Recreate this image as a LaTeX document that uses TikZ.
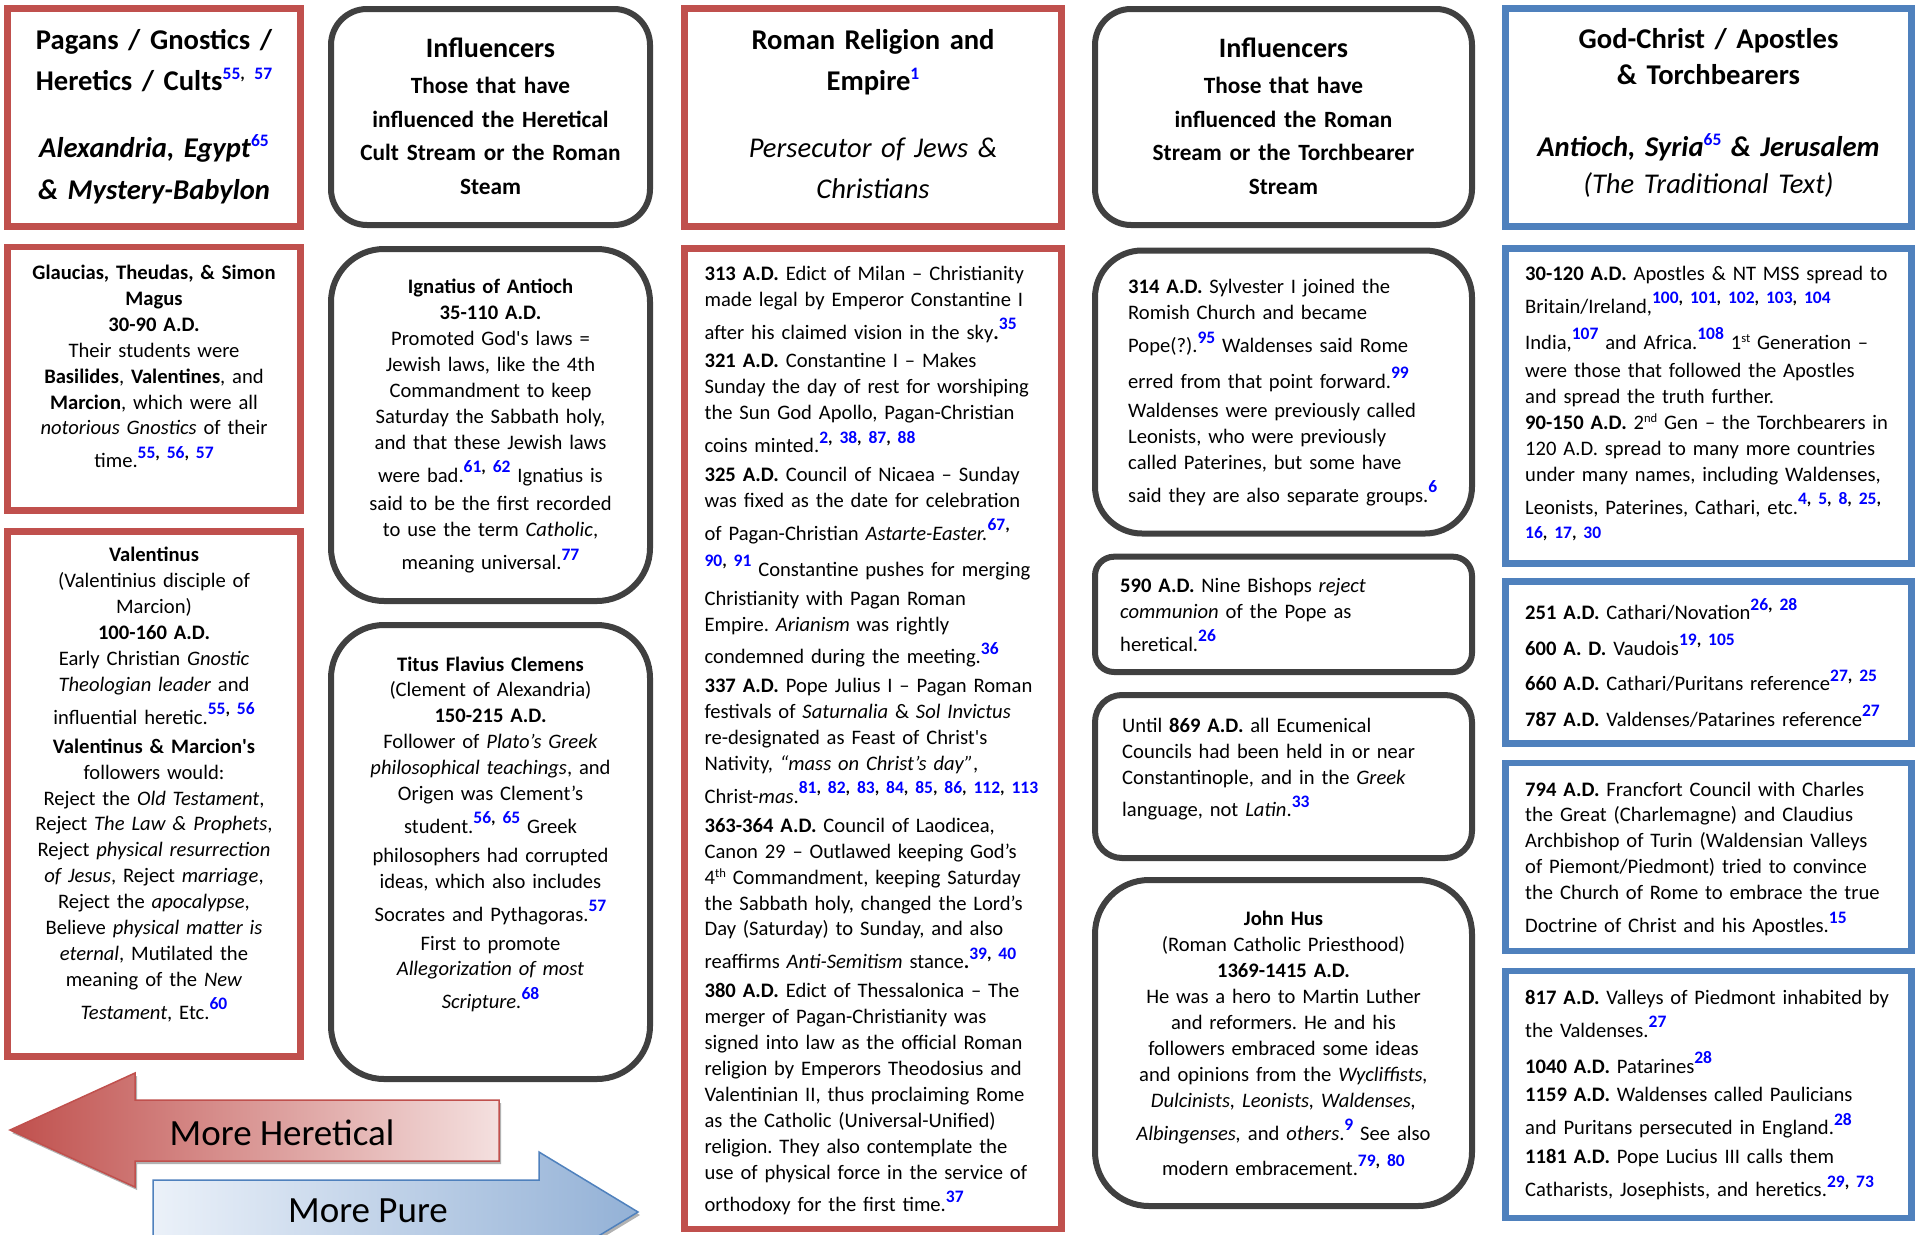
\documentclass[tikz,border=0pt]{standalone}
\usepackage{fontspec}
\setmainfont{Carlito}
\frenchspacing
\definecolor{redc}{HTML}{C0504D}
\definecolor{bluec}{HTML}{4F81BD}
\definecolor{grayc}{HTML}{404040}
\definecolor{refblue}{HTML}{0000FF}
\definecolor{pinkl}{HTML}{F4E0DF}
\definecolor{bluel}{HTML}{EBF1F9}
\definecolor{bluem}{HTML}{93B1D6}
\newcommand\rfn[2][9.5pt]{\smash{\raisebox{#1}{\fontsize{17.5}{17.5}\selectfont\bfseries\foreach \n [count=\k] in {#2}{\ifnum\k>1 , \fi\textcolor{refblue}{\n}}}}}
\newcommand\rfcm[1][9.5pt]{\smash{\raisebox{#1}{\fontsize{17.5}{17.5}\selectfont\bfseries ,}}}
\newcommand\myord[1]{\smash{\raisebox{7pt}{\fontsize{12.6}{12.6}\selectfont #1}}}
\newcommand\sq{\textquotesingle}
\tikzset{
  rbox/.style={draw=redc, line width=6.7pt, inner sep=0pt},
  bbox/.style={draw=bluec, line width=6.7pt, inner sep=0pt},
  gbox/.style={draw=grayc, line width=6pt, inner sep=0pt, rounded corners=#1},
  btxt/.style={inner sep=0pt, font=\fontsize{20.6}{25.9}\selectfont},
  bc/.style={btxt, align=center, anchor=north},
  bl/.style={btxt, align=left, anchor=north west},
  htxt/.style={inner sep=0pt, align=center, anchor=north, font=\fontsize{28.6}{41.4}\selectfont\bfseries},
  itxt/.style={inner sep=0pt, align=center, anchor=north, font=\fontsize{23.3}{33.5}\selectfont\bfseries},
  arrlabel/.style={inner sep=0pt, anchor=base, font=\fontsize{37}{40}\selectfont},
}
\begin{document}
\begin{tikzpicture}[x=1pt,y=-1pt]
\useasboundingbox (0,0) rectangle (1921,1234);
\fill[white] (0,0) rectangle (1921,1234);

% ---------- boxes ----------
% column 1 (red)
\node[rbox, minimum width=293.4pt, minimum height=218pt] (c1h) at (154,117.3) {};
\node[rbox, minimum width=293.4pt, minimum height=263.3pt] (c1b) at (154,378.65) {};
\node[rbox, minimum width=293.4pt, minimum height=525pt] (c1c) at (154,794) {};
% column 2 (gray rounded)
\node[gbox=36pt, minimum width=319pt, minimum height=216pt] (c2h) at (490.5,117) {};
\node[gbox=53pt, minimum width=319pt, minimum height=352pt] (c2b) at (490.5,425) {};
\node[gbox=53pt, minimum width=319pt, minimum height=454pt] (c2c) at (490.5,852) {};
% column 3 (red)
\node[rbox, minimum width=377pt, minimum height=218pt] (c3h) at (873,117.3) {};
\node[rbox, minimum width=377pt, minimum height=980.5pt] (c3b) at (873,738.75) {};
% column 4 (gray rounded)
\node[gbox=36pt, minimum width=377pt, minimum height=216pt] (c4h) at (1283.5,117) {};
\node[gbox=47pt, minimum width=377pt, minimum height=283pt] (c4b) at (1283.5,392) {};
\node[gbox=19pt, minimum width=377pt, minimum height=115.3pt] (c4c) at (1283.5,614.35) {};
\node[gbox=27pt, minimum width=377pt, minimum height=163pt] (c4d) at (1283.5,776.5) {};
\node[gbox=54pt, minimum width=377pt, minimum height=326pt] (c4e) at (1283.5,1043) {};
% column 5 (blue)
\node[bbox, minimum width=406pt, minimum height=218pt] (c5h) at (1708.5,117.3) {};
\node[bbox, minimum width=406pt, minimum height=315pt] (c5b) at (1708.5,406) {};
\node[bbox, minimum width=406pt, minimum height=162pt] (c5c) at (1708.5,662.5) {};
\node[bbox, minimum width=406pt, minimum height=188pt] (c5d) at (1708.5,857) {};
\node[bbox, minimum width=406pt, minimum height=247pt] (c5e) at (1708.5,1094.5) {};

% ---------- texts ----------
\node[htxt, text width=290pt] (t1h) at (154,20.32) {\strut Pagans / Gnostics /\\ Heretics / Cults\rfn[11pt]{55, 57}\\[25.6pt] \textit{Alexandria, Egypt}\rfn[11pt]{65}\\ \textit{\& Mystery-Babylon}};

\node[bc, text width=285pt] (t1b) at (154,261.17) {\strut\textbf{Glaucias, Theudas, \& Simon}\\ \textbf{Magus}\\ \textbf{30-90 A.D.}\\ Their students were\\ \textbf{Basilides}, \textbf{Valentines}, and\\ \textbf{Marcion}, which were all\\ \textit{notorious Gnostics} of their\\[7pt] time.\rfn{55, 56, 57}};

\node[bc, text width=285pt] (t1c) at (154,543.57) {\strut\textbf{Valentinus}\\ (Valentinius disciple of\\ Marcion)\\ \textbf{100-160 A.D.}\\ Early Christian \textit{Gnostic}\\ \textit{Theologian leader} and\\[7pt] influential heretic.\rfn{55, 56}\\[3pt] \textbf{Valentinus \& Marcion\sq s}\\ followers would:\\ Reject the \textit{Old Testament},\\ Reject \textit{The Law \& Prophets},\\ Reject \textit{physical resurrection}\\ \textit{of Jesus}, Reject \textit{marriage},\\ Reject the \textit{apocalypse},\\ Believe \textit{physical matter is}\\ \textit{eternal}, Mutilated the\\ meaning of the \textit{New}\\[7pt] \textit{Testament}, Etc.\rfn{60}};

\node[itxt, text width=305pt] (t2h) at (490.5,33.85) {\fontsize{28.1}{33.5}\selectfont\strut Influencers\\[2.7pt] \fontsize{23.3}{33.5}\selectfont Those that have\\ influenced the Heretical\\ Cult Stream or the Roman\\ Steam};

\node[bc, text width=305pt] (t2b) at (490.5,275.37) {\strut\textbf{Ignatius of Antioch}\\ \textbf{35-110 A.D.}\\ Promoted God\sq s laws =\\ Jewish laws, like the 4th\\ Commandment to keep\\ Saturday the Sabbath holy,\\ and that these Jewish laws\\[7pt] were bad.\rfn{61, 62} Ignatius is\\[3pt] said to be the first recorded\\ to use the term \textit{Catholic},\\[7pt] meaning universal.\rfn{77}};

\node[bc, text width=305pt] (t2c) at (490.5,652.67) {\strut\textbf{Titus Flavius Clemens}\\ (Clement of Alexandria)\\ \textbf{150-215 A.D.}\\ Follower of \textit{Plato’s Greek}\\ \textit{philosophical teachings}, and\\ Origen was Clement’s\\[7pt] student.\rfn{56, 65} Greek\\[3pt] philosophers had corrupted\\ ideas, which also includes\\[7pt] Socrates and Pythagoras.\rfn{57}\\[3pt] First to promote\\ \textit{Allegorization of most}\\[7pt] \textit{Scripture.}\rfn{68}};

\node[htxt, text width=365pt] (t3h) at (873,20) {\strut Roman Religion and\\ Empire\rfn[11pt]{1}\\[25.6pt] \mdseries\itshape Persecutor of Jews \&\\ Christians};

\node[bl, text width=365pt] (t3b) at (704.4,261.87) {\strut\textbf{313 A.D.} Edict of Milan – Christianity\\
made legal by Emperor Constantine I\\[7pt]
after his claimed vision in the sky\textbf{.}\rfn{35}\\[3pt]
\textbf{321 A.D.} Constantine I – Makes\\
Sunday the day of rest for worshiping\\
the Sun God Apollo, Pagan-Christian\\[7pt]
coins minted.\rfn{2, 38, 87, 88}\\[3pt]
\textbf{325 A.D.} Council of Nicaea – Sunday\\
was fixed as the date for celebration\\[7pt]
of Pagan-Christian \textit{Astarte-Easter.}\rfn{67}\rfcm\\[10pt]
\rfn{90, 91} Constantine pushes for merging\\[3pt]
Christianity with Pagan Roman\\
Empire. \textit{Arianism} was rightly\\[7pt]
condemned during the meeting.\rfn{36}\\[3pt]
\textbf{337 A.D.} Pope Julius I – Pagan Roman\\
festivals of \textit{Saturnalia} \& \textit{Sol Invictus}\\
re-designated as Feast of Christ\sq s\\
Nativity, \textit{“mass on Christ’s day”},\\[7pt]
Christ-\textit{mas}.\rfn{81, 82, 83, 84, 85, 86, 112, 113}\\[3pt]
\textbf{363-364 A.D.} Council of Laodicea,\\
Canon 29 – Outlawed keeping God’s\\
4\myord{th} Commandment, keeping Saturday\\
the Sabbath holy, changed the Lord’s\\
Day (Saturday) to Sunday, and also\\[7pt]
reaffirms \textit{Anti-Semitism} stance\textbf{.}\rfn{39, 40}\\[3pt]
\textbf{380 A.D.} Edict of Thessalonica – The\\
merger of Pagan-Christianity was\\
signed into law as the official Roman\\
religion by Emperors Theodosius and\\
Valentinian II, thus proclaiming Rome\\
as the Catholic (Universal-Unified)\\
religion. They also contemplate the\\
use of physical force in the service of\\[7pt]
orthodoxy for the first time.\rfn{37}};

\node[itxt, text width=365pt] (t4h) at (1283.5,33.85) {\fontsize{28.1}{33.5}\selectfont\strut Influencers\\[2.7pt] \fontsize{23.3}{33.5}\selectfont Those that have\\ influenced the Roman\\ Stream or the Torchbearer\\ Stream};

\node[bl, text width=340pt] (t4b) at (1128,275.37) {\strut\textbf{314 A.D.} Sylvester I joined the\\ Romish Church and became\\[7pt] Pope(?).\rfn{95} Waldenses said Rome\\[10pt] erred from that point forward.\rfn{99}\\[3pt] Waldenses were previously called\\ Leonists, who were previously\\ called Paterines, but some have\\[7pt] said they are also separate groups.\rfn{6}};

\node[bl, text width=340pt] (t4c) at (1120,574.27) {\strut\textbf{590 A.D.} Nine Bishops \textit{reject}\\ \textit{communion} of the Pope as\\[7pt] heretical.\rfn{26}};

\node[bl, text width=340pt] (t4d) at (1122,713.87) {\strut Until \textbf{869 A.D.} all Ecumenical\\ Councils had been held in or near\\ Constantinople, and in the \textit{Greek}\\[7pt] language, not \textit{Latin}.\rfn{33}};

\node[bc, text width=365pt] (t4e) at (1283.5,907.47) {\strut\textbf{John Hus}\\ (Roman Catholic Priesthood)\\ \textbf{1369-1415 A.D.}\\ He was a hero to Martin Luther\\ and reformers. He and his\\ followers embraced some ideas\\ and opinions from the \textit{Wycliffists,}\\ \textit{Dulcinists, Leonists, Waldenses,}\\[7pt] \textit{Albingenses,} and \textit{others}.\rfn{9} See also\\[10pt] modern embracement.\rfn{79, 80}};

\node[htxt, text width=395pt, font=\fontsize{28.6}{35.5}\selectfont\bfseries] (t5h) at (1708.5,23.85) {\strut God-Christ / Apostles\\ \& Torchbearers\\[36.8pt] \textit{Antioch, Syria}\rfn[11pt]{65} \textit{\& Jerusalem}\\[1.3pt] \mdseries\itshape (The Traditional Text)};

\node[bl, text width=380pt] (t5b) at (1525,261.87) {\strut\textbf{30-120 A.D.} Apostles \& NT MSS spread to\\[7pt] Britain/Ireland,\rfn{100, 101, 102, 103, 104}\\[10pt] India,\rfn{107} and Africa.\rfn{108} 1\myord{st} Generation –\\[3pt] were those that followed the Apostles\\ and spread the truth further.\\ \textbf{90-150 A.D.} 2\myord{nd} Gen – the Torchbearers in\\ 120 A.D. spread to many more countries\\ under many names, including Waldenses,\\[7pt] Leonists, Paterines, Cathari, etc.\rfn{4, 5, 8, 25}\rfcm\\[8pt] \rfn{16, 17, 30}};

\node[bl, text width=380pt] (t5c) at (1525,601.27) {\strut\textbf{251 A.D.} Cathari/Novation\rfn{26, 28}\\[9.6pt] \textbf{600 A. D.} Vaudois\rfn{19, 105}\\[9.6pt] \textbf{660 A.D.} Cathari/Puritans reference\rfn{27, 25}\\[9.6pt] \textbf{787 A.D.} Valdenses/Patarines reference\rfn{27}};

\node[bl, text width=380pt] (t5d) at (1525,777.67) {\strut\textbf{794 A.D.} Francfort Council with Charles\\ the Great (Charlemagne) and Claudius\\ Archbishop of Turin (Waldensian Valleys\\ of Piemont/Piedmont) tried to convince\\ the Church of Rome to embrace the true\\[7pt] Doctrine of Christ and his Apostles.\rfn{15}};

\node[bl, text width=380pt] (t5e) at (1525,985.87) {\strut\textbf{817 A.D.} Valleys of Piedmont inhabited by\\[7pt] the Valdenses.\rfn{27}\\[10pt] \textbf{1040 A.D.} Patarines\rfn{28}\\[3pt] \textbf{1159 A.D.} Waldenses called Paulicians\\[7pt] and Puritans persecuted in England.\rfn{28}\\[3pt] \textbf{1181 A.D.} Pope Lucius III calls them\\[7pt] Catharists, Josephists, and heretics.\rfn{29, 73}};

% ---------- arrows ----------
\fill[black, opacity=0.3, xshift=2pt, yshift=-3pt] (10,1130) -- (135,1073) -- (135,1100) -- (499,1100) -- (499,1161) -- (135,1161) -- (135,1187) -- cycle;
\path[left color=redc, right color=pinkl, draw=redc, line width=1.5pt] (10,1130) -- (135,1073) -- (135,1100) -- (499,1100) -- (499,1161) -- (135,1161) -- (135,1187) -- cycle;
\fill[black, opacity=0.3, xshift=2pt, yshift=-3pt] (153,1180) -- (539,1180) -- (539,1152) -- (638,1212) -- (539,1272) -- (539,1244) -- (153,1244) -- cycle;
\path[left color=bluel, right color=bluem, draw=bluec, line width=1.5pt] (153,1180) -- (539,1180) -- (539,1152) -- (638,1212) -- (539,1272) -- (539,1244) -- (153,1244) -- cycle;
\node[arrlabel] (lblH) at (282,1145) {More Heretical};
\node[arrlabel] (lblP) at (368,1222) {More Pure};
\end{tikzpicture}
\end{document}
